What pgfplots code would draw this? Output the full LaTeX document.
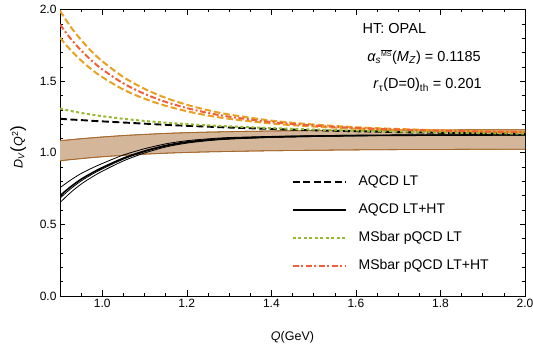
\documentclass[border=0pt]{standalone}
\usepackage{pgfplots}
\pgfplotsset{compat=1.18}
\usepackage{pgfplotstable}
\usepgfplotslibrary{fillbetween}
\usepackage{fontspec}
\setmainfont{Liberation Sans}

\definecolor{orng}{RGB}{232,160,32}
\definecolor{redd}{RGB}{240,95,60}
\definecolor{grn}{RGB}{150,185,50}
\definecolor{bandfill}{RGB}{212,183,155}
\definecolor{bandedge}{RGB}{165,105,45}

\pgfplotstableread{
Q     blo   bhi   aLT   aHTm  aHTu  aHTl  aHTm2 mLT   mHT   mHTu  mHTl
0.9   0.944 1.084 1.237 0.700 0.756 0.652 0.683 1.308 1.895 1.991 1.803
0.925 0.952 1.091 1.232 0.762 0.809 0.722 0.748 1.292 1.797 1.880 1.717
0.95  0.959 1.098 1.228 0.815 0.855 0.781 0.803 1.278 1.714 1.787 1.644
0.975 0.966 1.104 1.223 0.858 0.892 0.829 0.848 1.266 1.643 1.707 1.581
1.0   0.972 1.110 1.219 0.896 0.925 0.871 0.887 1.255 1.582 1.639 1.528
1.05  0.982 1.120 1.211 0.962 0.984 0.943 0.955 1.237 1.484 1.528 1.441
1.1   0.990 1.128 1.203 1.012 1.028 0.998 1.007 1.222 1.411 1.446 1.377
1.15  0.997 1.135 1.195 1.050 1.062 1.040 1.046 1.210 1.355 1.383 1.328
1.2   1.002 1.140 1.188 1.075 1.084 1.067 1.072 1.200 1.312 1.335 1.290
1.25  1.006 1.144 1.182 1.090 1.097 1.084 1.088 1.191 1.278 1.297 1.260
1.3   1.009 1.147 1.176 1.100 1.106 1.095 1.098 1.184 1.252 1.267 1.237
1.4   1.014 1.152 1.166 1.110 1.114 1.107 1.109 1.172 1.214 1.224 1.204
1.5   1.017 1.155 1.157 1.116 1.119 1.113 1.115 1.162 1.190 1.197 1.183
1.6   1.020 1.157 1.150 1.120 1.122 1.118 1.119 1.154 1.173 1.178 1.168
1.7   1.022 1.158 1.144 1.122 1.123 1.121 1.122 1.148 1.162 1.166 1.158
1.8   1.023 1.159 1.139 1.123 1.124 1.122 1.123 1.142 1.154 1.157 1.151
1.9   1.024 1.160 1.135 1.124 1.125 1.123 1.124 1.137 1.148 1.150 1.146
2.0   1.025 1.160 1.131 1.125 1.126 1.124 1.125 1.133 1.144 1.146 1.142
}\data

\tikzset{
  aLTstyle/.style={black, line width=1.9pt, dash pattern=on 7pt off 3.5pt},
  aHTstyle/.style={black, line width=1.6pt},
  mLTstyle/.style={grn, line width=2pt, dash pattern=on 3pt off 2.5pt},
  mHTstyle/.style={redd, line width=2pt, dash pattern=on 6pt off 2.5pt on 2pt off 2.5pt},
}

\begin{document}
\begin{tikzpicture}
\begin{axis}[
  scale only axis,
  width=465pt, height=286.5pt,
  xmin=0.9, xmax=2.0, ymin=0, ymax=2.0,
  xtick={1,1.2,1.4,1.6,1.8,2},
  minor xtick={0.9,0.95,1.05,1.1,1.15,1.25,1.3,1.35,1.45,1.5,1.55,1.65,1.7,1.75,1.85,1.9,1.95},
  ytick={0,0.5,1,1.5,2},
  minor tick num=4,
  xtick pos=both, ytick pos=both,
  tick align=inside,
  major tick length=5.5pt, minor tick length=3pt,
  tick style={black, line width=0.5pt},
  axis line style={black, line width=0.6pt},
  /pgf/number format/assume math mode=true,
  /pgf/number format/.cd, fixed, fixed zerofill, precision=1, /pgfplots/.cd,
  tick label style={font=\fontsize{12}{14}\selectfont},
  xlabel={\textit{Q}(GeV)},
  ylabel={\textit{D}\textsubscript{\textit{V}}{\fontsize{17}{17}\selectfont(}\textit{Q}\textsuperscript{2}{\fontsize{17}{17}\selectfont)}},
  label style={font=\fontsize{12.5}{14}\selectfont},
  xlabel style={at={(axis description cs:0.5,-0.143)}, anchor=center},
  ylabel style={at={(axis description cs:-0.09,0.52)}, anchor=center},
  legend style={draw=none, fill=none, at={(axis cs:1.448,0.843)}, anchor=north west,
    inner sep=0pt, outer sep=0pt, font=\fontsize{14}{16}\selectfont, row sep=15pt,
    nodes={inner sep=0pt, text height=10pt, text depth=3pt},
    /tikz/every odd column/.append style={column sep=12pt}},
  legend cell align=left,
  legend image code/.code={\draw[#1, line width=2pt] (0pt,0pt) -- (53pt,0pt);},
]
\addlegendimage{aLTstyle}
\addlegendentry{AQCD LT}
\addlegendimage{aHTstyle}
\addlegendentry{AQCD LT+HT}
\addlegendimage{mLTstyle}
\addlegendentry{MSbar pQCD LT}
\addlegendimage{mHTstyle}
\addlegendentry{MSbar pQCD LT+HT}
% band
\addplot[name path=bhi, draw=bandedge, line width=0.8pt, smooth, forget plot] table[x=Q,y=bhi]{\data};
\addplot[name path=blo, draw=bandedge, line width=0.8pt, smooth, forget plot] table[x=Q,y=blo]{\data};
\addplot[bandfill, forget plot] fill between[of=bhi and blo];
\addplot[draw=bandedge, line width=0.8pt, smooth, forget plot] table[x=Q,y=bhi]{\data};
\addplot[draw=bandedge, line width=0.8pt, smooth, forget plot] table[x=Q,y=blo]{\data};
% AQCD LT+HT extra lines
\addplot[black, line width=0.8pt, smooth, forget plot] table[x=Q,y=aHTu]{\data};
\addplot[black, line width=0.8pt, smooth, forget plot] table[x=Q,y=aHTl]{\data};
\addplot[black, line width=0.8pt, smooth, forget plot] table[x=Q,y=aHTm2]{\data};
% orange band lines
\addplot[orng, line width=2pt, dash pattern=on 6.5pt off 3pt, smooth, forget plot] table[x=Q,y=mHTu]{\data};
\addplot[orng, line width=2pt, dash pattern=on 6.5pt off 3pt, smooth, forget plot] table[x=Q,y=mHTl]{\data};
% main curves
\addplot[aLTstyle, smooth, forget plot] table[x=Q,y=aLT]{\data};
\addplot[aHTstyle, smooth, forget plot] table[x=Q,y=aHTm]{\data};
\addplot[mLTstyle, smooth, forget plot] table[x=Q,y=mLT]{\data};
\addplot[mHTstyle, smooth, forget plot] table[x=Q,y=mHT]{\data};

\node[anchor=center, font=\fontsize{14.5}{16}\selectfont] at (axis cs:1.691,1.870) {HT: OPAL};
\node[anchor=east, font=\fontsize{14.5}{16}\selectfont] at (axis cs:1.9035,1.668)
  {$\mbox{\itshape α}_{\mbox{\fontsize{10}{10}\selectfont\itshape s}}{}^{\overline{\mbox{\fontsize{7}{7}\selectfont MS}}}$(\textit{M}\textsubscript{\textit{Z}}) = 0.1185};
\node[anchor=east, font=\fontsize{14.5}{16}\selectfont] at (axis cs:1.906,1.472)
  {\textit{r}\textsubscript{τ}(D=0)\textsubscript{th} = 0.201};
\end{axis}
\pgfresetboundingbox
\path (-60pt,-51pt) rectangle (473pt,296pt);
\end{tikzpicture}
\end{document}
